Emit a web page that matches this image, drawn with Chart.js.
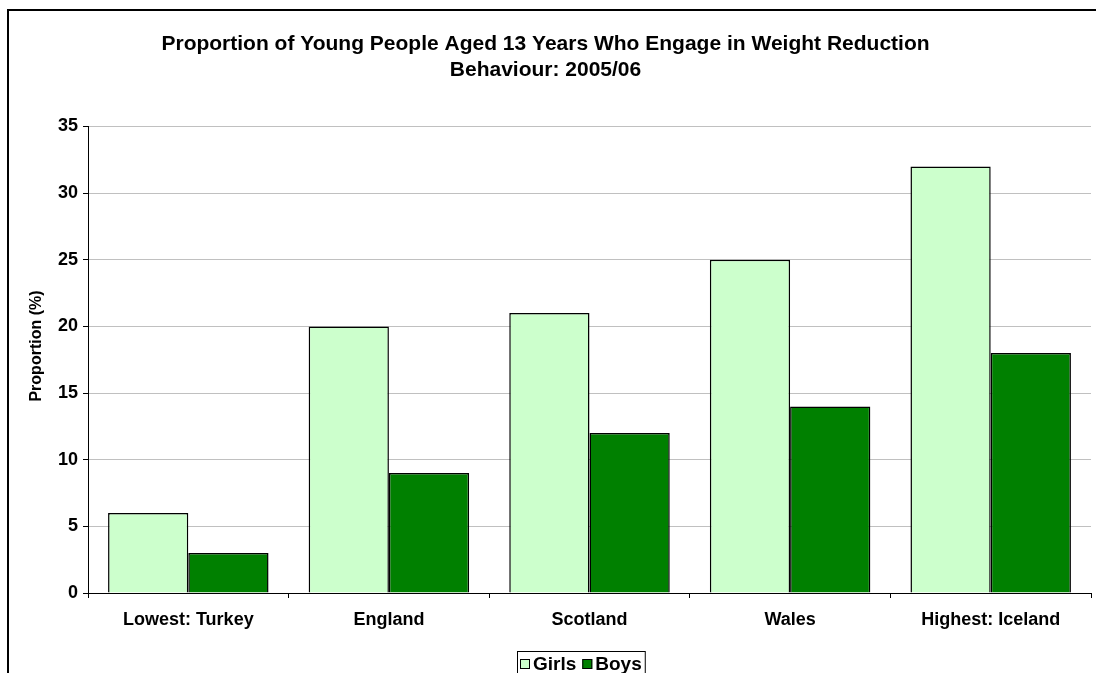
<!DOCTYPE html>
<html>
<head>
<meta charset="utf-8">
<script src="https://cdn.jsdelivr.net/npm/chart.js@4/dist/chart.umd.min.js"></script>
<style>
  html, body { margin: 0; padding: 0; background: #fff; }
  canvas { display: block; }
</style>
</head>
<body>
<canvas id="chart" width="1096" height="673"></canvas>
<script>
const categories = ["Lowest: Turkey", "England", "Scotland", "Wales", "Highest: Iceland"];
const girls = [6, 20, 21, 25, 32];
const boys = [3, 9, 12, 14, 18];
const titleLines = ["Proportion of Young People Aged 13 Years Who Engage in Weight Reduction", "Behaviour: 2005/06"];
const yTitle = "Proportion (%)";

const FONT = "'Liberation Sans', Arial, sans-serif";

// white background + outer frame
const framePlugin = {
    id: "frame",
    beforeDraw(chart) {
        const c = chart.ctx;
        c.save();
        c.fillStyle = "#fff";
        c.fillRect(0, 0, chart.width, chart.height);
        c.strokeStyle = "#000";
        c.lineWidth = 2;
        c.strokeRect(8, 10, chart.width + 20, chart.height + 20);
        c.restore();
    }
};

// y axis title, sitting a little above the axis middle as in the original
const yTitlePlugin = {
    id: "yTitle",
    afterDraw(chart) {
        const c = chart.ctx;
        c.save();
        c.translate(37, 346);
        c.rotate(-Math.PI / 2);
        c.font = "bold 16px " + FONT;
        c.fillStyle = "#000";
        c.textAlign = "center";
        c.textBaseline = "middle";
        c.fillText(yTitle, 0, 0);
        c.restore();
    }
};

// boxed legend at bottom, like the original
const legendPlugin = {
    id: "boxLegend",
    afterDraw(chart) {
        const c = chart.ctx;
        c.save();
        c.font = "bold 19px " + FONT;
        c.textBaseline = "middle";
        const sw = 10, gap = 3, itemGap = 6, pad = 3;
        const items = chart.data.datasets.map(d => ({
            label: d.label, color: d.backgroundColor, w: sw + gap + c.measureText(d.label).width
        }));
        const total = items.reduce((a, it) => a + it.w, 0) + itemGap * (items.length - 1) + pad * 2;
        const left = 517, top = 651, h = 30;
        c.strokeStyle = "#000";
        c.lineWidth = 1;
        c.strokeRect(left + 0.5, top + 0.5, total, h);
        let x = left + pad;
        const cy = top + 13;
        items.forEach(it => {
            c.fillStyle = it.color;
            c.fillRect(x, cy - 5, sw, sw);
            c.strokeRect(x + 0.5, cy - 4.5, sw - 1, sw - 1);
            c.fillStyle = "#000";
            c.fillText(it.label, x + sw + gap, cy + 1);
            x += it.w + itemGap;
        });
        c.restore();
    }
};

new Chart(document.getElementById("chart"), {
    type: "bar",
    data: {
        labels: categories,
        datasets: [
            { label: "Girls", data: girls, backgroundColor: "#CCFFCC", borderColor: "#000", borderWidth: 1.5 },
            { label: "Boys", data: boys, backgroundColor: "#008000", borderColor: "#000", borderWidth: 1.5 }
        ]
    },
    options: {
        responsive: false,
        animation: false,
        layout: { padding: { left: 0, right: 5, top: 0, bottom: 0 } },
        datasets: { bar: { categoryPercentage: 0.8, barPercentage: 1.0 } },
        plugins: {
            legend: { display: false },
            tooltip: { enabled: false },
            title: {
                display: true,
                text: titleLines,
                color: "#000",
                font: { family: FONT, size: 21, weight: "bold", lineHeight: 1.25 },
                padding: { top: 31, bottom: 43 }
            }
        },
        scales: {
            x: {
                afterFit(s) { s.height = 80; },
                border: { color: "#000", width: 1 },
                grid: { offset: true, drawOnChartArea: false, tickLength: 5, tickColor: "#000" },
                ticks: { color: "#000", padding: 11, font: { family: FONT, size: 18, weight: "bold" } }
            },
            y: {
                min: 0,
                max: 35,
                afterFit(s) { s.width = 88; },
                border: { color: "#000", width: 1 },
                grid: { color: "#c0c0c0", tickLength: 5, tickColor: "#000" },
                ticks: { stepSize: 5, color: "#000", padding: 5, font: { family: FONT, size: 18, weight: "bold" } }
            }
        }
    },
    plugins: [framePlugin, yTitlePlugin, legendPlugin]
});
</script>
</body>
</html>
